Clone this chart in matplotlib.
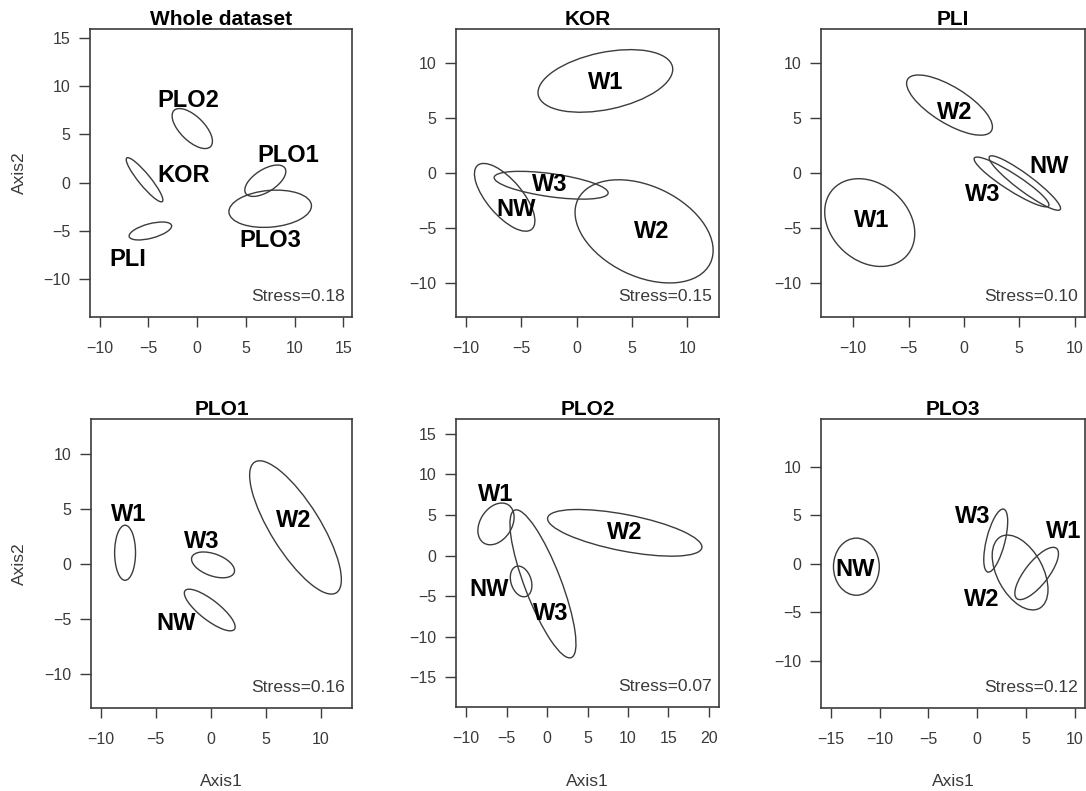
import matplotlib
matplotlib.use("Agg")
import matplotlib.pyplot as plt
from matplotlib.patches import Ellipse

plt.rcParams['font.family'] = ['Liberation Sans', 'DejaVu Sans']

# ---- data ----
titles = ["Whole dataset", "KOR", "PLI", "PLO1", "PLO2", "PLO3"]
stress = ["Stress=0.18", "Stress=0.15", "Stress=0.10", "Stress=0.16", "Stress=0.07", "Stress=0.12"]

# group names per panel
groups_whole = ["PLO2", "KOR", "PLI", "PLO1", "PLO3"]
groups_kor = ["W1", "W3", "NW", "W2"]
groups_pli = ["W2", "W1", "W3", "NW"]
groups_plo1 = ["W1", "W3", "NW", "W2"]
groups_plo2 = ["W1", "W3", "NW", "W2"]
groups_plo3 = ["NW", "W3", "W2", "W1"]

# ellipse centres (Axis1, Axis2), full widths/heights, rotation (deg)
cx_whole = [-0.5, -5.4, -4.8, 7.0, 7.5]
cy_whole = [5.6, 0.3, -5.0, 0.2, -2.7]
w_whole = [5.3, 5.8, 4.5, 4.8, 8.5]
h_whole = [2.5, 1.2, 1.5, 2.3, 3.8]
a_whole = [-45, -51, 15, 33, 5]
lx_whole = [-0.9, -1.4, -7.1, 9.4, 7.5]
ly_whole = [8.5, 0.7, -7.9, 2.8, -6.0]

cx_kor = [2.6, -2.3, -6.5, 6.1]
cy_kor = [8.4, -1.1, -2.2, -5.3]
w_kor = [12.4, 10.4, 7.6, 13.3]
h_kor = [5.2, 2.1, 3.2, 8.2]
a_kor = [12, -8, -50, -26]
lx_kor = [2.6, -2.4, -5.5, 6.8]
ly_kor = [8.3, -1.0, -3.3, -5.3]

cx_pli = [-1.3, -8.5, 4.3, 5.5]
cy_pli = [6.2, -4.5, -0.8, -0.9]
w_pli = [8.9, 9.0, 8.0, 8.0]
h_pli = [3.3, 7.0, 1.5, 1.5]
a_pli = [-32, -43, -33, -37]
lx_pli = [-0.8, -8.3, 1.7, 7.7]
ly_pli = [5.5, -4.3, -1.9, 0.6]

cx_plo1 = [-7.8, 0.2, -0.1, 7.7]
cy_plo1 = [1.0, -0.1, -4.2, 3.3]
w_plo1 = [1.9, 4.1, 5.7, 14.0]
h_plo1 = [5.0, 2.0, 1.8, 4.5]
a_plo1 = [0, -20, -38, -58]
lx_plo1 = [-7.5, -0.8, -3.2, 7.5]
ly_plo1 = [4.5, 2.0, -5.4, 3.9]

cx_plo2 = [-6.3, -0.5, -3.2, 9.6]
cy_plo2 = [3.9, -3.5, -3.2, 2.8]
w_plo2 = [5.6, 19.5, 3.9, 19.4]
h_plo2 = [3.9, 4.5, 2.5, 4.5]
a_plo2 = [57, -69, -72, -11]
lx_plo2 = [-6.4, 0.5, -7.2, 9.6]
ly_plo2 = [7.5, -7.1, -4.2, 2.9]

cx_plo3 = [-12.4, 1.9, 4.4, 6.1]
cy_plo3 = [-0.3, 2.4, -0.9, -1.0]
w_plo3 = [4.7, 6.7, 8.4, 6.6]
h_plo3 = [5.9, 1.9, 4.7, 2.4]
a_plo3 = [0, 76, -62, 52]
lx_plo3 = [-12.5, -0.5, 0.5, 8.9]
ly_plo3 = [-0.6, 4.9, -3.7, 3.3]

xticks = [[-10, -5, 0, 5, 10, 15], [-10, -5, 0, 5, 10], [-10, -5, 0, 5, 10],
          [-10, -5, 0, 5, 10], [-10, -5, 0, 5, 10, 15, 20], [-15, -10, -5, 0, 5, 10]]
yticks = [[-10, -5, 0, 5, 10, 15], [-10, -5, 0, 5, 10], [-10, -5, 0, 5, 10],
          [-10, -5, 0, 5, 10], [-15, -10, -5, 0, 5, 10, 15], [-10, -5, 0, 5, 10]]
xlims = [(-11.0, 15.9), (-10.9, 12.87), (-12.9, 10.93), (-10.9, 12.84), (-11.24, 21.24), (-16.03, 11.06)]
ylims = [(-13.9, 15.9), (-13.1, 13.13), (-13.1, 13.13), (-13.1, 13.15), (-18.7, 16.85), (-14.9, 14.96)]

panels = [
    (groups_whole, cx_whole, cy_whole, w_whole, h_whole, a_whole, lx_whole, ly_whole),
    (groups_kor, cx_kor, cy_kor, w_kor, h_kor, a_kor, lx_kor, ly_kor),
    (groups_pli, cx_pli, cy_pli, w_pli, h_pli, a_pli, lx_pli, ly_pli),
    (groups_plo1, cx_plo1, cy_plo1, w_plo1, h_plo1, a_plo1, lx_plo1, ly_plo1),
    (groups_plo2, cx_plo2, cy_plo2, w_plo2, h_plo2, a_plo2, lx_plo2, ly_plo2),
    (groups_plo3, cx_plo3, cy_plo3, w_plo3, h_plo3, a_plo3, lx_plo3, ly_plo3),
]

# ---- layout (pixel boxes: left, right, top, bottom) ----
W, H = 1086, 791
boxes = [(90, 352, 29, 317), (456, 719, 29, 317), (821, 1085, 29, 317),
         (91, 352, 419, 708), (456, 719, 419, 707), (821, 1085, 419, 708)]

fig = plt.figure(figsize=(W / 100, H / 100), dpi=100)
line_col = "#3c3c3c"
text_col = "#3a3a3a"

for i, (box, pdata) in enumerate(zip(boxes, panels)):
    l, r, t, b = box
    ax = fig.add_axes([l / W, 1 - b / H, (r - l) / W, (b - t) / H])
    g, cx, cy, ww, hh, aa, lx, ly = pdata
    for j in range(len(g)):
        ax.add_patch(Ellipse((cx[j], cy[j]), ww[j], hh[j], angle=aa[j],
                             fill=False, edgecolor=line_col, lw=1.0))
        ax.text(lx[j], ly[j], g[j], ha="center", va="center", fontsize=17,
                fontweight="bold", color="black")
    ax.set_xlim(*xlims[i])
    ax.set_ylim(*ylims[i])
    ax.set_xticks(xticks[i])
    ax.set_yticks(yticks[i])
    ax.set_xticklabels([str(v).replace("-", "\u2212") for v in xticks[i]])
    ax.set_yticklabels([str(v).replace("-", "\u2212") for v in yticks[i]])
    ax.tick_params(axis="x", direction="out", length=7, width=1.0, pad=10,
                   labelsize=11.5, colors=line_col, labelcolor=text_col)
    ax.tick_params(axis="y", direction="out", length=8, width=1.0, pad=6,
                   labelsize=11.5, colors=line_col, labelcolor=text_col)
    for s in ax.spines.values():
        s.set_color(line_col)
        s.set_linewidth(1.2)
    ax.set_title(titles[i], fontsize=15, fontweight="bold", pad=1.5)
    ax.text(0.972, 0.045, stress[i], transform=ax.transAxes, ha="right",
            va="bottom", fontsize=12.6, color=text_col)

# axis labels
for (l, r, t, b) in [boxes[0], boxes[3]]:
    fig.text(19 / W, 1 - ((t + b) / 2) / H, "Axis2", rotation=90, ha="center",
             va="center", fontsize=12.5, color=text_col)
for (l, r, t, b) in boxes[3:]:
    fig.text(((l + r) / 2) / W, 1 - 781 / H, "Axis1", ha="center", va="center",
             fontsize=12.5, color=text_col)

fig.savefig("out.png", dpi=100)
